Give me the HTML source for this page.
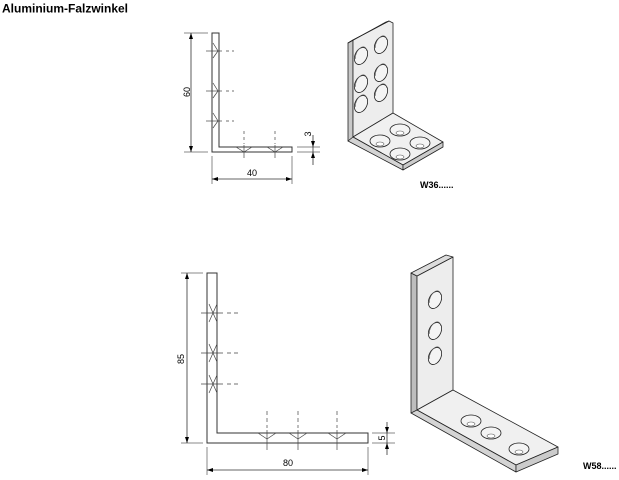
<!DOCTYPE html>
<html><head><meta charset="utf-8"><style>
html,body{margin:0;padding:0;background:#fff;width:619px;height:480px;overflow:hidden}
svg{display:block}
text{font-family:"Liberation Sans",sans-serif}
</style></head><body>
<svg width="619" height="480" viewBox="0 0 619 480" xmlns="http://www.w3.org/2000/svg">
<defs>
<g id="hv"><ellipse cx="0" cy="0" rx="6" ry="9" fill="#f4f4f4"/><path d="M-4 5 A4 7 0 0 1 3 -7" fill="none" stroke="#555" stroke-width="0.6"/></g>
<g id="hh"><ellipse cx="0" cy="0" rx="10" ry="6" fill="#f4f4f4"/><ellipse cx="0" cy="3" rx="4" ry="2" fill="#fff" stroke="#555" stroke-width="0.6"/></g>
</defs>
<text x="2" y="12.5" font-size="12" font-weight="bold" fill="#000">Aluminium-Falzwinkel</text>

<!-- Drawing 1 -->
<g stroke="#333" fill="none" stroke-width="1">
<path d="M212 33 H219 V147 H292 V152 H212 Z" fill="#fff"/>
<line x1="184" y1="33" x2="208" y2="33" stroke="#888"/>
<line x1="184" y1="152" x2="208" y2="152" stroke="#888"/>
<line x1="191" y1="33" x2="191" y2="152" stroke-width="0.8"/>
<line x1="212" y1="156" x2="212" y2="184" stroke="#888"/>
<line x1="292" y1="156" x2="292" y2="184" stroke="#888"/>
<line x1="212" y1="179" x2="292" y2="179" stroke-width="0.8"/>
<line x1="297" y1="147" x2="320" y2="147" stroke="#888"/>
<line x1="297" y1="152" x2="320" y2="152" stroke="#888"/>
<line x1="313" y1="135" x2="313" y2="165" stroke-width="0.8"/>
</g>
<g stroke="#444" stroke-width="0.7" fill="none">
<line x1="206" y1="51" x2="222" y2="51"/><line x1="226" y1="51" x2="234" y2="51" stroke-dasharray="3,3"/>
<path d="M213 43 L218 51 L213 58"/>
<line x1="206" y1="91" x2="222" y2="91"/><line x1="226" y1="91" x2="234" y2="91" stroke-dasharray="3,3"/>
<path d="M213 83 L218 91 L213 98"/>
<line x1="206" y1="121" x2="222" y2="121"/><line x1="226" y1="121" x2="234" y2="121" stroke-dasharray="3,3"/>
<path d="M213 113 L218 121 L213 128"/>
<line x1="244" y1="131" x2="244" y2="144" stroke-dasharray="3,3"/><line x1="244" y1="145" x2="244" y2="158"/>
<path d="M236 147 L244 152 L252 147"/>
<line x1="275" y1="131" x2="275" y2="144" stroke-dasharray="3,3"/><line x1="275" y1="145" x2="275" y2="158"/>
<path d="M267 147 L275 152 L283 147"/>
</g>
<g fill="#000">
<path d="M191 33 l-2 6 h4 z M191 152 l-2 -6 h4 z M212 179 l6 -2 v4 z M292 179 l-6 -2 v4 z M313 147 l-2 -6 h4 z M313 152 l-2 6 h4 z"/>
</g>
<text x="190" y="92" font-size="9" transform="rotate(-90 190 92)" text-anchor="middle">60</text>
<text x="252" y="176" font-size="9" text-anchor="middle">40</text>
<text x="311" y="134" font-size="9" transform="rotate(-90 311 134)" text-anchor="middle">3</text>

<!-- Iso 1 -->
<g stroke="#222" stroke-width="0.8" stroke-linejoin="round">
<path d="M348 43 L353 40 L353 138 L348 141 Z" fill="#c8c8c8"/>
<path d="M353 40 L389 21 L393 23 L393 113 L353 137 Z" fill="#ededed"/>
<path d="M348 43 L386 22 L389 21 L353 40 Z" fill="#dedede"/>
<path d="M353 137 L393 113 L443 142 L403 165 Z" fill="#f0f0f0"/>
<path d="M348 141 L353 137 L403 165 L403 170 Z" fill="#d4d4d4"/>
<path d="M403 165 L443 142 L443 147 L403 170 Z" fill="#cbcbcb"/>
</g>
<g stroke="#222" stroke-width="0.8">
<use href="#hv" transform="translate(361 56) rotate(25)"/>
<use href="#hv" transform="translate(381 45) rotate(25)"/>
<use href="#hv" transform="translate(361 84) rotate(25)"/>
<use href="#hv" transform="translate(381 73) rotate(25)"/>
<use href="#hv" transform="translate(361 104) rotate(25)"/>
<use href="#hv" transform="translate(381 93) rotate(25)"/>
<use href="#hh" transform="translate(400 130)"/>
<use href="#hh" transform="translate(380 141)"/>
<use href="#hh" transform="translate(420 143)"/>
<use href="#hh" transform="translate(400 154)"/>
</g>
<text x="420" y="188" font-size="9" font-weight="bold">W36......</text>

<!-- Drawing 2 -->
<g stroke="#333" fill="none" stroke-width="1">
<path d="M207 273 H217 V433 H368 V443 H207 Z" fill="#fff"/>
<line x1="181" y1="273" x2="203" y2="273" stroke="#888"/>
<line x1="181" y1="443" x2="203" y2="443" stroke="#888"/>
<line x1="187" y1="273" x2="187" y2="443" stroke-width="0.8"/>
<line x1="207" y1="447" x2="207" y2="475" stroke="#888"/>
<line x1="368" y1="447" x2="368" y2="475" stroke="#888"/>
<line x1="207" y1="470" x2="368" y2="470" stroke-width="0.8"/>
<line x1="372" y1="433" x2="395" y2="433" stroke="#888"/>
<line x1="372" y1="443" x2="395" y2="443" stroke="#888"/>
<line x1="387" y1="422" x2="387" y2="455" stroke-width="0.8"/>
</g>
<g stroke="#444" stroke-width="0.7" fill="none">
<line x1="201" y1="313" x2="223" y2="313"/><line x1="227" y1="313" x2="238" y2="313" stroke-dasharray="4,3"/>
<path d="M209 304 L213 313 L209 322 M217 304 L213 313 L217 322"/>
<line x1="201" y1="353" x2="223" y2="353"/><line x1="227" y1="353" x2="238" y2="353" stroke-dasharray="4,3"/>
<path d="M209 344 L213 353 L209 362 M217 344 L213 353 L217 362"/>
<line x1="201" y1="384" x2="223" y2="384"/><line x1="227" y1="384" x2="238" y2="384" stroke-dasharray="4,3"/>
<path d="M209 375 L213 384 L209 393 M217 375 L213 384 L217 393"/>
<line x1="267" y1="411" x2="267" y2="428" stroke-dasharray="4,3"/><line x1="267" y1="430" x2="267" y2="450"/>
<path d="M258 433 L267 439 L276 433"/>
<line x1="298" y1="411" x2="298" y2="428" stroke-dasharray="4,3"/><line x1="298" y1="430" x2="298" y2="450"/>
<path d="M289 433 L298 439 L307 433"/>
<line x1="337" y1="411" x2="337" y2="428" stroke-dasharray="4,3"/><line x1="337" y1="430" x2="337" y2="450"/>
<path d="M328 433 L337 439 L346 433"/>
</g>
<g fill="#000">
<path d="M187 273 l-2 6 h4 z M187 443 l-2 -6 h4 z M207 470 l6 -2 v4 z M368 470 l-6 -2 v4 z M387 433 l-2 -6 h4 z M387 443 l-2 6 h4 z"/>
</g>
<text x="184" y="359" font-size="9" transform="rotate(-90 184 359)" text-anchor="middle">85</text>
<text x="288" y="466" font-size="9" text-anchor="middle">80</text>
<text x="385" y="438" font-size="9" transform="rotate(-90 385 438)" text-anchor="middle">5</text>

<!-- Iso 2 -->
<g stroke="#222" stroke-width="0.8" stroke-linejoin="round">
<path d="M411 273 L417 276 L417 412 L411 413 Z" fill="#bdbdbd"/>
<path d="M417 276 L453 257 L453 390 L417 410 Z" fill="#ededed"/>
<path d="M411 273 L446 255 L453 257 L417 276 Z" fill="#dcdcdc"/>
<path d="M417 410 L453 390 L558 447 L516 465 Z" fill="#f0f0f0"/>
<path d="M411 413 L417 410 L516 465 L516 472 Z" fill="#d4d4d4"/>
<path d="M516 465 L558 447 L558 454 L516 472 Z" fill="#cbcbcb"/>
</g>
<g stroke="#222" stroke-width="0.8">
<use href="#hv" transform="translate(435 300) rotate(25)"/>
<use href="#hv" transform="translate(435 331) rotate(25)"/>
<use href="#hv" transform="translate(435 356) rotate(25)"/>
<use href="#hh" transform="translate(471 421)"/>
<use href="#hh" transform="translate(491 433)"/>
<use href="#hh" transform="translate(519 449)"/>
</g>
<text x="583" y="469" font-size="9" font-weight="bold">W58......</text>
</svg>
</body></html>
